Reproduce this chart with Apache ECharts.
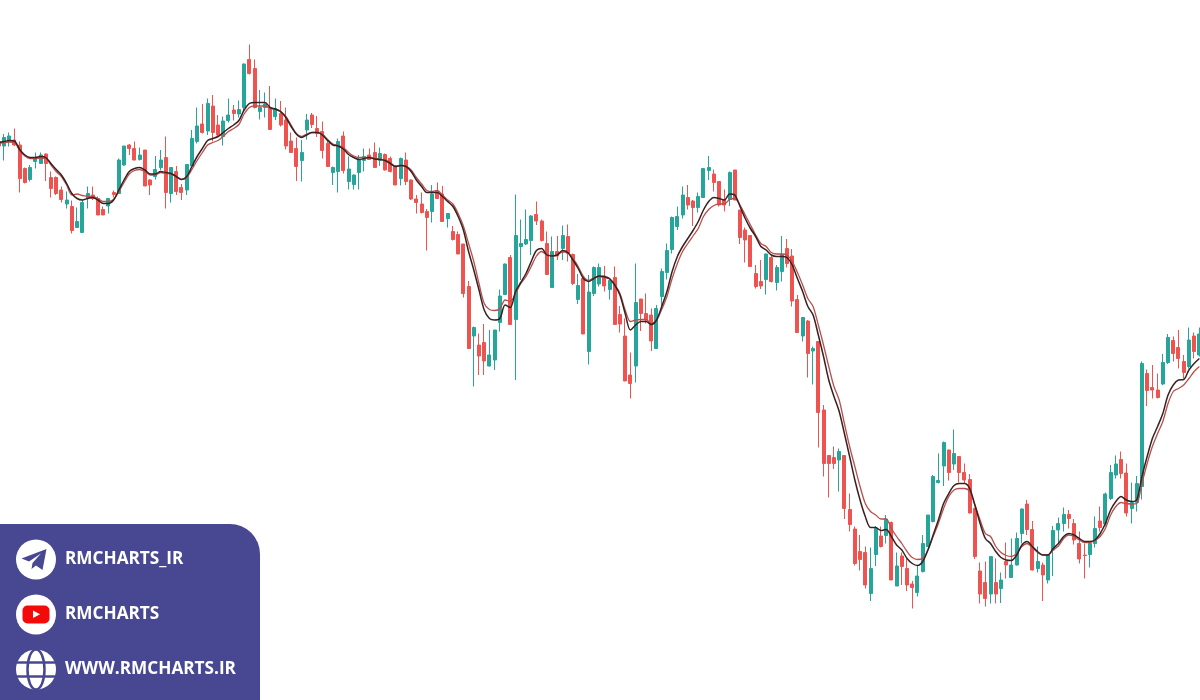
<!DOCTYPE html>
<html>
<head>
<meta charset="utf-8">
<title>chart</title>
<script src="https://cdn.jsdelivr.net/npm/echarts@6/dist/echarts.min.js"></script>
<style>
html,body{margin:0;padding:0;background:#fff;overflow:hidden;}
/* first and last candle are cut by the window edge, so the chart box sticks out a bit */
#chart{position:absolute;left:-4px;top:0;width:1206px;height:700px;filter:blur(0.45px);}
</style>
</head>
<body>
<div id="chart"></div>
<script>
// values (no price axis is shown, so units are arbitrary)
var opens = [558.5,554,558.5,560,555,531.5,520.5,538.5,536.5,546,
522.5,522.5,510,496,493.5,472.5,467.5,501.5,505,501.5,
490.5,494,507.5,506.5,535,555,551.5,540.5,550,520,
523.5,532.5,542.5,506.5,528.5,512.5,510,534,558.5,576,
569,594,575,563.5,579.5,590,586,592.5,640.5,631.5,
588.5,592.5,591.5,583.5,586.5,580,559,551.5,539.5,570,
585,571.5,568.5,556.5,527.5,528.5,564,518.5,515.5,527.5,
539.5,545,547.5,539.5,545.5,541.5,533.5,521.5,540,520,
501,496,488.5,488.5,508.5,506,481.5,468.5,465.5,456,
413.5,364,355,357.5,334,340,377.5,405.5,442.5,380.5,
453.5,456,459.5,485.5,479,456.5,412.5,448.5,451.5,463.5,
445.5,400.5,421.5,348.5,406.5,416,424,410.5,422.5,385.5,
364,325,334,401,386.5,385,351.5,403.5,427.5,450.5,
473.5,485,502.5,499,492.5,502.5,529.5,526,518.5,500,
500.5,530,490,470,464.5,426.5,418.5,420.5,442.5,417.5,
428.5,451.5,444,400.5,364,379,349,358.5,290,244.5,
242.5,240,244.5,190.5,171,148.5,147.5,106.5,145.5,164,
164.5,177.5,114,144,131.5,116,107.5,128.5,153.5,178.5,
217.5,234,250,236,243.5,227.5,220.5,191.5,129,117.5,
106,117.5,111.5,138.5,122.5,135,166.5,196,170.5,131.5,
135,120,150,170,176.5,185.5,176.5,156.5,145,145.5,
156.5,179,176,201.5,225,240.5,227,191.5,197.5,213.5,
326.5,312.5,310,316,337.5,359.5,352.5,338.5,333.5,364,345];

var closes = [554,562.5,564,555,521.5,517.5,532.5,541.5,545,536.5,
511.5,506.5,500.5,500,469.5,478.5,497.5,506.5,501.5,485,
485,501.5,505.5,540,554,551.5,540,545,514,515,
530.5,540,507.5,532.5,508.5,507.5,535.5,561.5,574,567.5,
596.5,567.5,565,579,585,586.5,590.5,636,626.5,592.5,
592.5,596,570.5,591.5,575,554,547.5,533.5,547.5,580,
575.5,566.5,549.5,533.5,532.5,558.5,529.5,531,525,540,
543.5,540.5,532.5,546.5,530,528.5,515,541.5,518.5,501,
497.5,487.5,482.5,506,501.5,478.5,486.5,460.5,446,406.5,
351.5,372.5,344,339,345,370,404,436,375.5,464.5,
456.5,460.5,484,479,459.5,425.5,448.5,444,464.5,446.5,
416.5,414.5,366,408,432.5,432.5,414,419.5,375.5,376,
319,316.5,397.5,386.5,380,359,391.5,428.5,449.5,482.5,
483.5,505,495,492.5,503.5,531.5,532.5,517.5,495,495,
527.5,500,462.5,460,433.5,413.5,414,446,418.5,432.5,
445.5,436.5,399,367.5,382.5,346.5,351.5,287.5,236.5,236.5,
236.5,248.5,191.5,175.5,136.5,140.5,115,131.5,171.5,153.5,
181,120,134,133.5,115,112.5,124,156.5,185,223.5,
219.5,257.5,227.5,246.5,227.5,220,187,143.5,106,101.5,
143.5,106,120,135,135,161.5,191,170.5,130,138.5,
125,145,169.5,176.5,185.5,181.5,160,141,144.5,156.5,
171.5,172.5,206,227.5,236,226.5,187,197.5,216.5,336.5,
309.5,310,302.5,337.5,362.5,346.5,341.5,327.5,360,348.5,366];

var lows = [553.5,539.5,553.5,554,507.5,516.5,518.5,531.5,536,519,
502.5,505,497.5,491.5,466.5,472.5,467.5,491.5,500,485,
485,486.5,502.5,506.5,534,545,539.5,539.5,514,505,
520.5,530,491.5,497.5,505,500,505,533.5,556.5,566.5,
565,558.5,563.5,554.5,577.5,579.5,582.5,590,625.5,591.5,
580.5,582.5,570.5,580,573.5,550.5,547.5,519,518.5,560.5,
572,563,541.5,533.5,515,507.5,526.5,510.5,510.5,510.5,
528.5,540.5,532.5,534,529.5,527.5,515,514.5,515,500,
486.5,486.5,449.5,477.5,501.5,478.5,472.5,459.5,446,402.5,
351.5,313.5,325,325,333.5,330,368.5,405,375.5,320,
420,455,445,475,458.5,425.5,412.5,440,440,438.5,
415,396,366,335.5,404,413.5,408.5,400.5,375.5,367.5,
319,301.5,317.5,369,376.5,349,351.5,393.5,420.5,446.5,
470,481.5,490.5,474,487.5,502.5,520,508.5,493.5,488.5,
494,500,456,437.5,433.5,411.5,411,405.5,417.5,409.5,
418.5,432.5,393.5,367.5,358.5,322.5,315.5,252.5,223.5,202.5,
231,208.5,181,168.5,134.5,129.5,111.5,99,134,152.5,
156.5,120,114,115,109,91.5,103.5,127.5,153.5,177.5,
216.5,214,219.5,230,217.5,216.5,186.5,141,96.5,93.5,
96.5,96.5,97,121.5,122.5,134.5,156.5,165,129.5,127.5,
99,116.5,124,156.5,168.5,171.5,155.5,136.5,121.5,132.5,
152.5,168.5,173.5,200,221.5,221.5,183.5,176.5,188.5,200.5,
294,301.5,301.5,315,336,338.5,331.5,321.5,331.5,341.5,343.5];

var highs = [560,566,567.5,571.5,558.5,532.5,535,547.5,547.5,546.5,
528.5,523.5,513.5,508.5,499.5,492.5,500,513.5,513.5,503.5,
493.5,501.5,509.5,541.5,554,556,558.5,552.5,550,521,
544,550,563.5,532.5,534,516,536,570,592.5,596,
601.5,605,585,583.5,601.5,595,599.5,636.5,655.5,640.5,
610,607.5,614,601.5,599,592.5,567.5,562.5,560,586,
587,584,578.5,560,533.5,561.5,568.5,543.5,525.5,545,
551.5,551.5,557.5,552.5,546.5,543.5,535,542.5,547.5,520.5,
505,507.5,491,515,517.5,514,486.5,474,468.5,456,
419,373.5,366.5,376,370,370,410.5,436.5,445,505.5,
480.5,490.5,485,498.5,480.5,468.5,463.5,464,474.5,475.5,
446.5,426,423.5,425,433.5,436.5,434,421.5,433.5,394,
381.5,347.5,436.5,401,406.5,391.5,395,431.5,456.5,483.5,
493.5,513.5,515,500,507.5,531.5,544,530.5,518.5,510.5,
528.5,530,490,472.5,464.5,435,440,446.5,445,435,
464,461,451,405,382.5,380,353.5,359,295,245,
253.5,251.5,245,206.5,173.5,165,153.5,152.5,174,173.5,
185,178.5,147.5,147.5,141,119,134,165,185,225,
246.5,258.5,250.5,270.5,244,236.5,226,192.5,137.5,138.5,
143.5,141.5,127.5,157.5,161.5,167.5,191.5,200,179,153.5,
137.5,145,174,182.5,192.5,190,181,168.5,156.5,157.5,
183.5,193.5,207.5,235,244.5,248.5,236.5,217.5,224,338.5,
330.5,335,326.5,346,366,363.5,370,345,372.5,367.5,372.5];

// the two moving averages
var maFast = [557.5,558.5,559.5,559,550.5,545,542.5,542.5,543.5,542.5,
536.5,530.5,525,516.5,506.5,501.5,500,501.5,502.5,500,
496.5,496.5,500,510,520,528.5,531.5,532.5,530,526,
526,528.5,527.5,526.5,523.5,520.5,523.5,533.5,543.5,551.5,
559.5,561.5,563.5,567.5,571.5,575,579.5,590,596.5,597.5,
597.5,597.5,592.5,591,588.5,582.5,573.5,566,562.5,565,
567.5,567.5,565,559.5,555,554,551,545.5,542.5,540.5,
541.5,542.5,541,540.5,539.5,536.5,533.5,534.5,533.5,528.5,
520,513.5,507.5,507.5,507.5,503.5,498.5,493.5,483.5,470,
448.5,430,410,390,381.5,380,381.5,395,392.5,408.5,
417.5,426.5,438.5,449.5,451.5,445,444,445,449.5,447.5,
440,431.5,421.5,418.5,421.5,424,423.5,421.5,415,405,
386.5,370,375,378.5,378.5,375.5,380,393.5,408.5,428.5,
443.5,453.5,461.5,469.5,478.5,490,498.5,502.5,501.5,500,
506,505,493.5,481.5,471.5,463.5,453.5,450,445,443.5,
443.5,442.5,435,421.5,408.5,393.5,385,365,343.5,320,
303.5,288.5,266.5,243.5,220,200,183.5,172.5,172.5,169.5,
170.5,163.5,155,150,141.5,136.5,134.5,138.5,150,165,
180,196.5,206.5,214.5,216.5,216.5,211.5,195,176.5,161.5,
156.5,148.5,142.5,140,139.5,145,155,158.5,153.5,148.5,
145,145,151.5,156.5,163.5,166.5,165,161.5,158.5,158.5,
160,166.5,176.5,190,198.5,203.5,200,198.5,200,223.5,
243.5,261.5,273.5,286.5,305,315,320,320.5,330,336.5,341.5];

var maSlow = [556.5,557.5,558,557.5,549.5,544,541.5,541.5,542,541.5,
535,528.5,523.5,515,505,506,504.5,503.5,503.5,501.5,
498.5,498.5,500.5,508.5,517.5,526,529.5,530.5,528.5,525,
525,527.5,526.5,526,523.5,520.5,522.5,530.5,539.5,547.5,
555,557.5,559.5,563.5,568.5,571.5,575.5,586,592.5,594,
594,594,591.5,590.5,588.5,583.5,575,566.5,563.5,566,
567.5,567.5,566,560.5,556,554.5,552.5,547.5,544,542.5,
542.5,542.5,541.5,541,540,537.5,533.5,534.5,534,530,
522.5,516,509.5,508.5,509.5,505,500,496,486.5,474,
456.5,438.5,416.5,396.5,390.5,389.5,391.5,400,398.5,406.5,
416.5,423.5,433.5,444,448.5,445,444.5,445,448,447.5,
441.5,433.5,423.5,419.5,422.5,423.5,422.5,421,415,406.5,
390,378.5,380,380.5,380.5,376.5,379.5,390.5,403.5,421.5,
436.5,448.5,456.5,464,471.5,483.5,490.5,494.5,496,496,
500.5,501.5,495,485,475,465,456.5,453.5,447.5,446,
446,445,438.5,427.5,415,401.5,393.5,375,355,333.5,
313.5,300,276.5,253.5,233.5,213.5,196.5,188.5,185,181,
181,171.5,163.5,156.5,148.5,142.5,140.5,141.5,150,163.5,
176.5,191.5,203.5,210,211.5,211.5,208.5,195,180,166.5,
163.5,153.5,147.5,144.5,143.5,146.5,153.5,156.5,152.5,147.5,
145,145,150,154,161.5,165,163.5,160,157.5,157.5,
159.5,163.5,171.5,185,193.5,197.5,196.5,196,196.5,216.5,
236.5,253.5,266.5,278.5,296.5,308.5,311.5,315,321.5,328.5,333.5];

var categories = opens.map(function (v, i) { return i + 1; });

var upColor = '#26a69a';
var downColor = '#ef5350';
var panelColor = '#474891';

window.onload = function () {
    var myChart = echarts.init(document.getElementById('chart'), null, {renderer: 'canvas'});

    var candles = [];
    for (var i = 0; i < opens.length; i++) {
        candles.push([opens[i], closes[i], lows[i], highs[i]]);
    }

    // badge bottom left: panel, then the three round icons
    var badge = {
        type: 'group',
        x: 4,
        children: [
            {type: 'rect', shape: {x: -4, y: 524, width: 264, height: 176, r: [0, 30, 0, 0]}, style: {fill: panelColor}},

            {type: 'circle', shape: {cx: 36, cy: 559.5, r: 20}, style: {fill: '#fff'}},
            {type: 'polygon', shape: {points: [[46.5, 549], [21.5, 558.5], [29, 561.5], [41, 553.5], [32.5, 563], [31.5, 569], [36, 565.5], [42.5, 570]]}, style: {fill: panelColor}},

            {type: 'circle', shape: {cx: 36, cy: 614.5, r: 20}, style: {fill: '#fff'}},
            {type: 'rect', shape: {x: 22.5, y: 605.5, width: 27, height: 18, r: 5}, style: {fill: '#f50a0a'}},
            {type: 'polygon', shape: {points: [[33, 610.5], [33, 618], [40, 614.3]]}, style: {fill: '#fff'}},

            {type: 'circle', shape: {cx: 36, cy: 669.5, r: 20}, style: {fill: '#fff'}},
            {type: 'ellipse', shape: {cx: 36, cy: 669.5, rx: 8.5, ry: 20}, style: {fill: 'none', stroke: panelColor, lineWidth: 2.5}},
            {type: 'line', shape: {x1: 17, y1: 662.5, x2: 55, y2: 662.5}, style: {stroke: panelColor, lineWidth: 2.5}},
            {type: 'line', shape: {x1: 17, y1: 676.5, x2: 55, y2: 676.5}, style: {stroke: panelColor, lineWidth: 2.5}},

            {type: 'text', x: 65, y: 559.5, style: {text: 'RMCHARTS_IR', fill: '#fff', font: 'bold 17.2px "Open Sans"', verticalAlign: 'middle'}},
            {type: 'text', x: 65, y: 614.5, style: {text: 'RMCHARTS', fill: '#fff', font: 'bold 17.2px "Open Sans"', verticalAlign: 'middle'}},
            {type: 'text', x: 65, y: 669.5, style: {text: 'WWW.RMCHARTS.IR', fill: '#fff', font: 'bold 17.2px "Open Sans"', verticalAlign: 'middle'}}
        ]
    };

    var option = {
        animation: false,
        backgroundColor: '#fff',
        grid: {left: 0.17, top: 0, width: 1205.8, height: 700},
        xAxis: {type: 'category', data: categories, show: false},
        yAxis: {type: 'value', min: 0, max: 700, show: false, splitLine: {show: false}},
        series: [
            {
                type: 'candlestick',
                data: candles,
                barWidth: 3.5,
                itemStyle: {color: upColor, color0: downColor, borderColor: upColor, borderColor0: downColor, borderWidth: 1}
            },
            {
                name: 'maSlow',
                type: 'line',
                data: maSlow,
                showSymbol: false,
                smooth: 0.3,
                lineStyle: {color: '#b84f4c', width: 1.3}
            },
            {
                name: 'maFast',
                type: 'line',
                data: maFast,
                showSymbol: false,
                smooth: 0.3,
                lineStyle: {color: '#3a2020', width: 1.5}
            }
        ],
        graphic: {elements: [badge]}
    };
    myChart.setOption(option);
};
</script>
</body>
</html>
